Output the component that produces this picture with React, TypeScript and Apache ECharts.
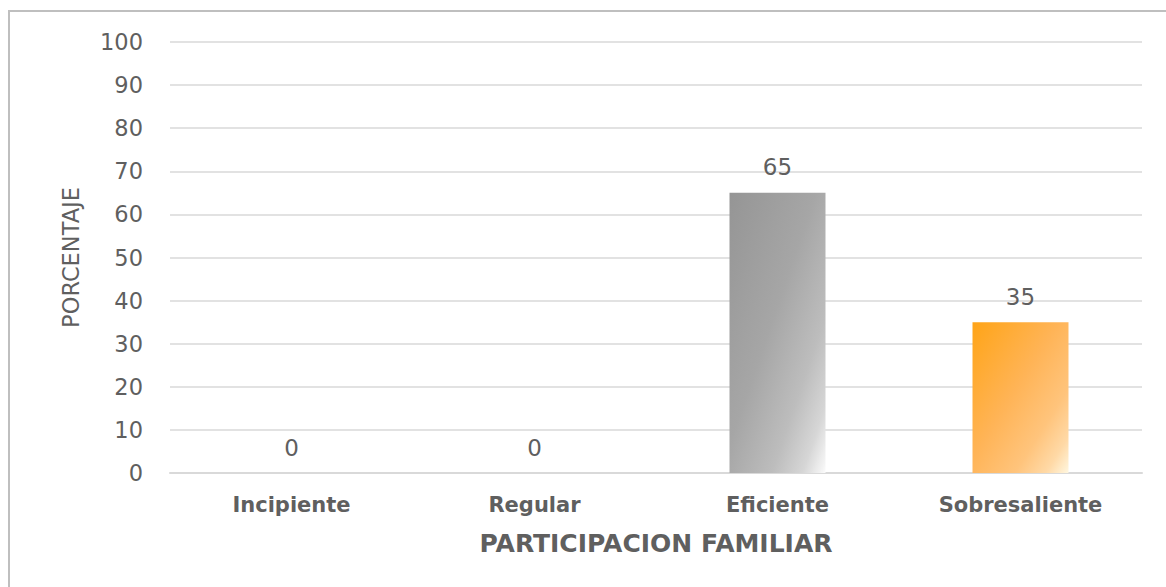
import React, { useEffect, useRef } from "react";
import * as echarts from "echarts";

const categories = ["Incipiente", "Regular", "Eficiente", "Sobresaliente"];
const values = [0, 0, 65, 35];
const yTicks = { min: 0, max: 100, interval: 10 };
const xTitle = "PARTICIPACION FAMILIAR";
const yTitle = "PORCENTAJE";

const FONT = "DejaVu Sans";
const TXT = "#5f5f5f";

function grad(stops: [number, string][]) {
  return new echarts.graphic.LinearGradient(
    0,
    0,
    1,
    1,
    stops.map(([offset, color]) => ({ offset, color }))
  );
}

const barFills = [
  grad([[0, "#959595"], [1, "#f5f5f5"]]),
  grad([[0, "#959595"], [1, "#f5f5f5"]]),
  grad([
    [0, "#959595"],
    [0.45, "#a6a6a6"],
    [0.72, "#bdbdbd"],
    [0.88, "#d6d6d6"],
    [1, "#fbfbfb"],
  ]),
  grad([
    [0, "#ffa417"],
    [0.45, "#ffb457"],
    [0.72, "#ffc47c"],
    [0.88, "#ffd9a6"],
    [1, "#fff7e0"],
  ]),
];

export default function App() {
  const ref = useRef<HTMLDivElement>(null);
  useEffect(() => {
    if (!ref.current) return;
    const chart = echarts.init(ref.current, undefined, { renderer: "svg" });
    chart.setOption({
      animation: false,
      backgroundColor: "#ffffff",
      graphic: [
        {
          type: "rect",
          shape: { x: 9, y: 11, width: 1180, height: 620 },
          style: { fill: "none", stroke: "#bfbfbf", lineWidth: 2 },
          silent: true,
        },
      ],
      grid: { left: 170, right: 24, top: 42, bottom: 114 },
      xAxis: {
        type: "category",
        data: categories,
        name: xTitle,
        nameLocation: "middle",
        nameGap: 58,
        nameTextStyle: {
          fontFamily: FONT,
          fontSize: 25,
          fontWeight: "bold",
          color: TXT,
        },
        axisLine: { lineStyle: { color: "#d9d9d9", width: 2 } },
        axisTick: { show: false },
        axisLabel: {
          fontFamily: FONT,
          fontSize: 21,
          fontWeight: "bold",
          color: TXT,
          margin: 21,
        },
      },
      yAxis: {
        type: "value",
        min: yTicks.min,
        max: yTicks.max,
        interval: yTicks.interval,
        name: yTitle,
        nameLocation: "middle",
        nameGap: 88,
        nameTextStyle: { fontFamily: FONT, fontSize: 22.5, color: TXT },
        axisLine: { show: false },
        axisTick: { show: false },
        splitLine: { lineStyle: { color: "#d9d9d9", width: 1.5 } },
        axisLabel: {
          fontFamily: FONT,
          fontSize: 22.5,
          color: TXT,
          margin: 27,
        },
      },
      series: [
        {
          type: "bar",
          barWidth: "39.5%",
          data: values.map((v, i) => ({
            value: v,
            itemStyle: { color: barFills[i] },
          })),
          label: {
            show: true,
            position: "top",
            distance: 14,
            fontFamily: FONT,
            fontSize: 23,
            color: TXT,
          },
        },
      ],
    });
    return () => chart.dispose();
  }, []);
  return (
    <div
      ref={ref}
      style={{
        position: "absolute",
        left: 0,
        top: 0,
        width: 1166,
        height: 587,
      }}
    />
  );
}
